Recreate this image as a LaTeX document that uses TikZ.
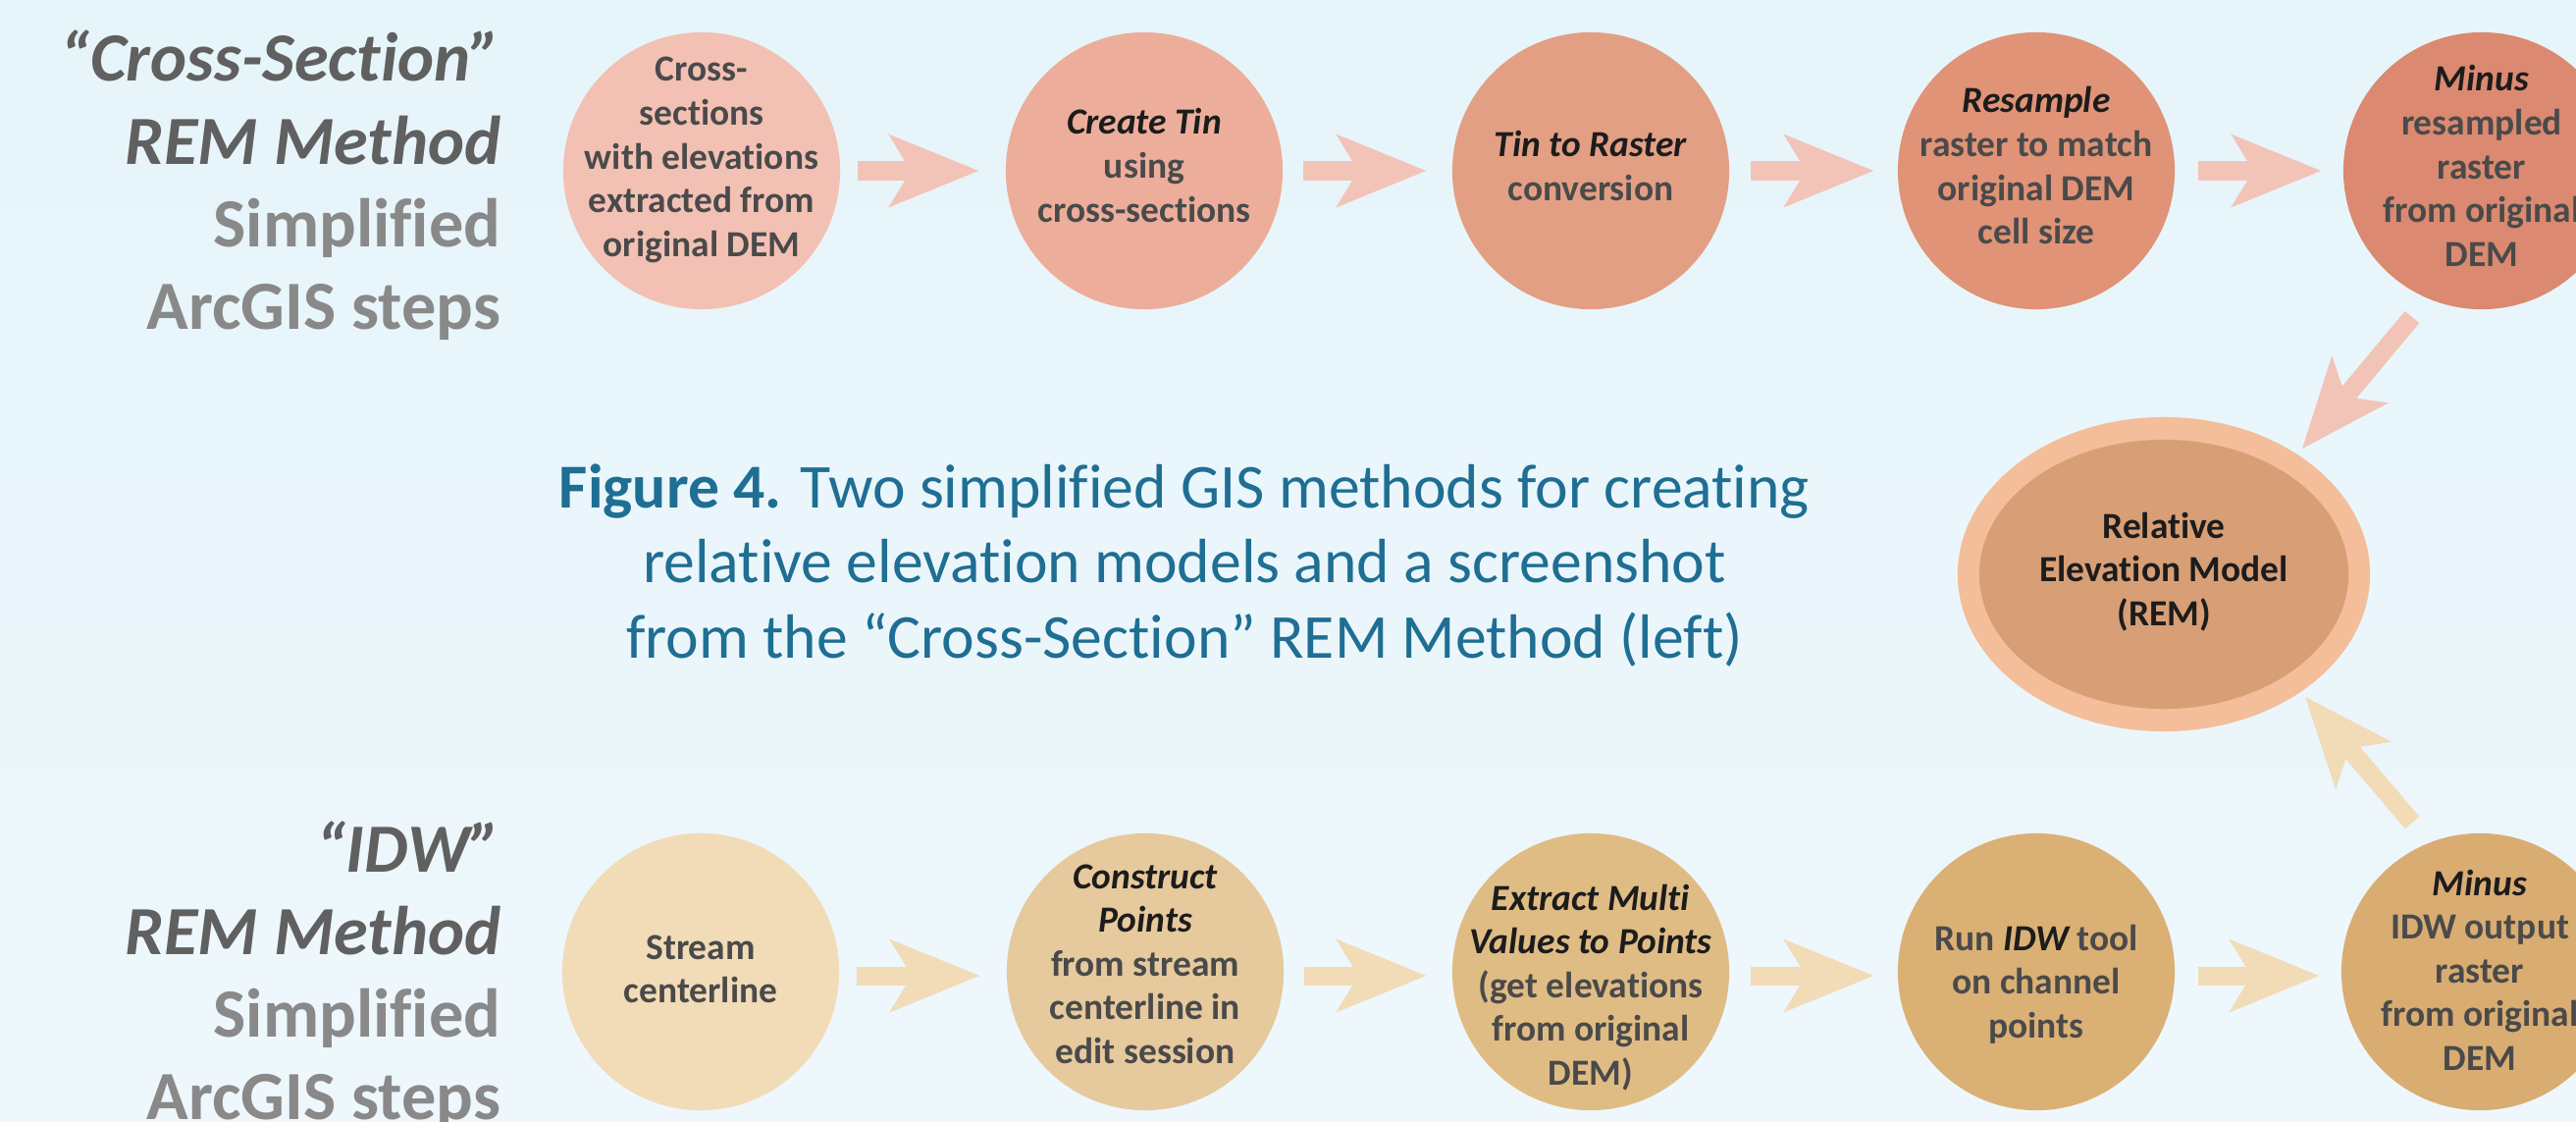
\documentclass[tikz,border=0pt]{standalone}
\usepackage{fontspec}
\setmainfont{Carlito}[Ligatures={NoCommon,NoRequired,NoContextual},Contextuals=NoAlternate]
\usetikzlibrary{arrows.meta,calc,shapes.geometric}
\definecolor{bgtop}{HTML}{EEF7FC}
\definecolor{bgbot}{HTML}{E6F5FA}
\definecolor{ca}{HTML}{F2C1B4}
\definecolor{cb}{HTML}{ECAE9B}
\definecolor{cc}{HTML}{E39F84}
\definecolor{cd}{HTML}{E09376}
\definecolor{ce}{HTML}{DB8970}
\definecolor{arrT}{HTML}{F2C4B8}
\definecolor{da}{HTML}{F2DBB7}
\definecolor{db}{HTML}{E6C99C}
\definecolor{dc}{HTML}{E0BC85}
\definecolor{dd}{HTML}{DBB075}
\definecolor{de}{HTML}{D9AC72}
\definecolor{arrB}{HTML}{F2DBB7}
\definecolor{remout}{HTML}{F3BE99}
\definecolor{remin}{HTML}{D89E75}
\definecolor{tgray}{HTML}{4A4A4A}
\definecolor{tblack}{HTML}{1C1C1C}
\definecolor{hdark}{HTML}{606060}
\definecolor{hlight}{HTML}{898989}
\definecolor{capblue}{HTML}{1F6E93}
\newcommand\ml[1]{\begin{tabular}[t]{@{}c@{}}#1\end{tabular}}
\newcommand\mr[1]{\begin{tabular}[t]{@{}r@{}}#1\end{tabular}}
\newcommand\bk[1]{{\color{tblack}\itshape #1}}
\tikzset{
  stepc/.style={circle, minimum size=2.82cm, inner sep=0pt, fill=#1},
  ctext/.style={anchor=base, inner sep=0pt, text=tgray,
    font=\fontsize{10.65}{12.7}\selectfont\bfseries},
  htext/.style={anchor=base east, inner sep=0pt,
    font=\fontsize{20}{23.9}\selectfont\bfseries},
  captext/.style={anchor=base, inner sep=0pt, text=capblue,
    font=\fontsize{18.1}{21.8}\selectfont},
  barrow/.style={line width=0.19cm, draw=#1,
    -{Stealth[length=0.92cm, width=0.75cm, inset=0.23cm, line width=0pt]}},
}
\begin{document}
\begin{tikzpicture}[x=0.01cm,y=-0.01cm]
\useasboundingbox (0,0) rectangle (2625,1143);
\shade[top color=bgbot, bottom color=bgtop] (0,0) rectangle (2625,1143);

% titles
\node[htext] (h1) at (511,83) {\mr{{\color{hdark}\itshape “Cross-Section”}\\
  {\color{hdark}\itshape REM Method}\\ {\color{hlight}Simplified}\\ {\color{hlight}ArcGIS steps}}};
\node[htext] (h2) at (511,888) {\mr{{\color{hdark}\itshape “IDW”}\\
  {\color{hdark}\itshape REM Method}\\ {\color{hlight}Simplified}\\ {\color{hlight}ArcGIS steps}}};

% caption
\node[captext] (cap) at (1207,517) {\ml{\textbf{Figure 4.} Two simplified GIS methods for creating\\
  relative elevation models and a screenshot\\
  from the “Cross-Section” REM Method (left)}};

% top row
\node[stepc=ca] (c1) at (715,174) {};
\node[stepc=cb] (c2) at (1166,174) {};
\node[stepc=cc] (c3) at (1621,174) {};
\node[stepc=cd] (c4) at (2075,174) {};
\node[stepc=ce] (c5) at (2529,174) {};

% bottom row
\node[stepc=da] (d1) at (714,990) {};
\node[stepc=db] (d2) at (1167,990) {};
\node[stepc=dc] (d3) at (1621,990) {};
\node[stepc=dd] (d4) at (2075,990) {};
\node[stepc=de] (d5) at (2527,990) {};

% REM
\node[ellipse, fill=remout, minimum width=4.2cm, minimum height=3.2cm, inner sep=0pt] (rem) at (2205,585) {};
\node[ellipse, fill=remin, minimum width=3.76cm, minimum height=2.74cm, inner sep=0pt] (remi) at (rem) {};

% arrows
\draw[barrow=arrT] ($(c1.east)+(17,0)$) -- ($(c2.west)+(-27,0)$);
\draw[barrow=arrT] ($(c2.east)+(20,0)$) -- ($(c3.west)+(-26,0)$);
\draw[barrow=arrT] ($(c3.east)+(21,0)$) -- ($(c4.west)+(-24,0)$);
\draw[barrow=arrT] ($(c4.east)+(23,0)$) -- ($(c5.west)+(-22,0)$);
\draw[barrow=arrB] ($(d1.east)+(17,4)$) -- ($(d2.west)+(-27,4)$);
\draw[barrow=arrB] ($(d2.east)+(20,4)$) -- ($(d3.west)+(-26,4)$);
\draw[barrow=arrB] ($(d3.east)+(21,4)$) -- ($(d4.west)+(-24,4)$);
\draw[barrow=arrB] ($(d4.east)+(23,4)$) -- ($(d5.west)+(-22,4)$);
\draw[barrow=arrT] ($(c5)+(-71,149)$) -- ($(rem)+(141,-128)$);
\draw[barrow=arrB] ($(d5)+(-69,-152)$) -- ($(rem)+(144,125)$);

% texts
\node[ctext] (t1) at (715,83) {\ml{Cross-\\sections\\with elevations\\extracted from\\original DEM}};
\node[ctext] (t2) at (1166,137) {\ml{\bk{Create Tin}\\using\\cross-sections}};
\node[ctext] (t3) at (1621,160) {\ml{\bk{Tin to Raster}\\conversion}};
\node[ctext] (t4) at (2075,115) {\ml{\bk{Resample}\\raster to match\\original DEM\\cell size}};
\node[ctext] (t5) at (2529,93) {\ml{\bk{Minus}\\resampled\\raster\\from original\\DEM}};
\node[ctext, text=tblack] (tr) at (2205,548) {\ml{Relative\\Elevation Model\\(REM)}};
\node[ctext] (u1) at (714,977) {\ml{Stream\\centerline}};
\node[ctext] (u2) at (1167,905) {\ml{\bk{Construct}\\\bk{Points}\\from stream\\centerline in\\edit session}};
\node[ctext] (u3) at (1621,927) {\ml{\bk{Extract Multi}\\\bk{Values to Points}\\(get elevations\\from original\\DEM)}};
\node[ctext] (u4) at (2075,968) {\ml{Run \bk{IDW} tool\\on channel\\points}};
\node[ctext] (u5) at (2527,912) {\ml{\bk{Minus}\\IDW output\\raster\\from original\\DEM}};
\end{tikzpicture}
\end{document}
